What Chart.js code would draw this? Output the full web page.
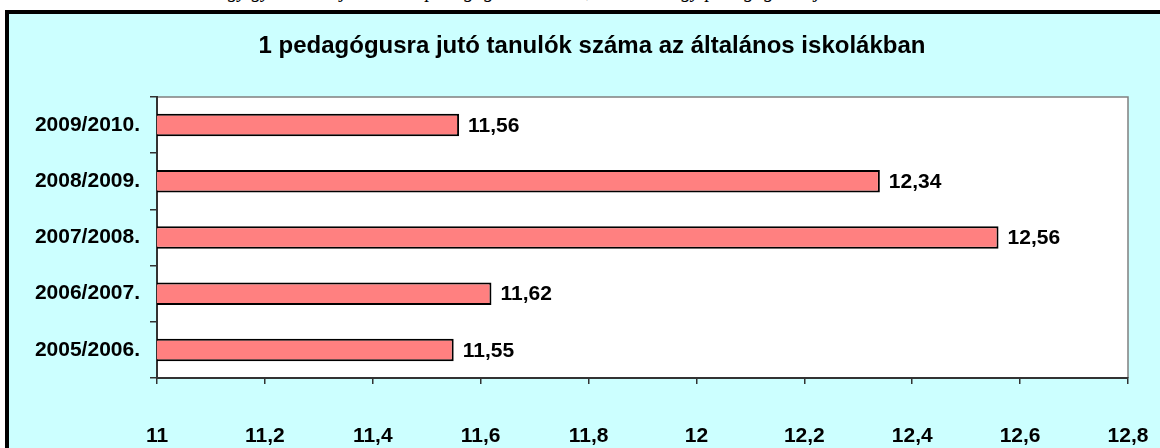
<!DOCTYPE html>
<html>
<head>
<meta charset="utf-8">
<script src="https://cdn.jsdelivr.net/npm/chart.js@4"></script>
<style>
  html, body { margin: 0; padding: 0; background: #fff; overflow: hidden; }
  #wrap { position: relative; width: 1160px; height: 448px; }
  #topline {
    position: absolute; left: 0; top: -21px; width: 1160px;
    font: italic 20px "Liberation Serif", serif; color: #000; white-space: nowrap;
    text-align: center;
  }
  #frame {
    position: absolute; left: 5px; top: 10px; width: 1170px; height: 460px;
    background: #ccffff; border-top: 4px solid #000; border-left: 4px solid #000;
  }
  #Chart { position: absolute; left: 0; top: 0; }
</style>
</head>
<body>
<div id="wrap">
  <div id="topline">Az egy gyermekre jutó óvodapedagógusok száma, illetve az egy pedagógusra jutó tanulók száma</div>
  <div id="frame"></div>
  <canvas id="Chart" width="1160" height="448"></canvas>
</div>
<script>
// School years and students per teacher
const years = ['2005/2006.', '2006/2007.', '2007/2008.', '2008/2009.', '2009/2010.'];
const studentsPerTeacher = [11.55, 11.62, 12.56, 12.34, 11.56];
const xTicks = [11, 11.2, 11.4, 11.6, 11.8, 12, 12.2, 12.4, 12.6, 12.8];

const labelFont = { family: 'Liberation Sans, Arial, sans-serif', size: 21, weight: 'bold' };

function fmt(v) {
  return String(Math.round(v * 100) / 100).replace('.', ',');
}

// white plot area with a thin grey frame on top and right
const plotBox = {
  id: 'plotBox',
  afterLayout(chart) {
    // centre the title a bit right of the canvas middle, like the original
    chart.titleBlock.left = 56;
    chart.titleBlock.right = 1128;
  },
  beforeDraw(chart) {
    const { ctx, chartArea: a } = chart;
    ctx.save();
    ctx.fillStyle = '#ffffff';
    ctx.fillRect(a.left, a.top, a.right - a.left, a.bottom - a.top);
    ctx.strokeStyle = '#808080';
    ctx.lineWidth = 1.5;
    ctx.beginPath();
    ctx.moveTo(a.left, a.top);
    ctx.lineTo(a.right, a.top);
    ctx.lineTo(a.right, a.bottom);
    ctx.stroke();
    ctx.restore();
  }
};

// value labels right of the bars
const valueLabels = {
  id: 'valueLabels',
  afterDatasetsDraw(chart) {
    const { ctx } = chart;
    const meta = chart.getDatasetMeta(0);
    ctx.save();
    ctx.font = 'bold 21px "Liberation Sans", Arial, sans-serif';
    ctx.fillStyle = '#000';
    ctx.textAlign = 'left';
    ctx.textBaseline = 'middle';
    meta.data.forEach((bar, i) => {
      ctx.fillText(fmt(studentsPerTeacher[i]), bar.x + 9, bar.y + 1);
    });
    ctx.restore();
  }
};

const config = {
  type: 'bar',
  data: {
    labels: years,
    datasets: [{
      data: studentsPerTeacher,
      backgroundColor: '#ff8080',
      borderColor: '#000000',
      borderWidth: 2,
      borderSkipped: false,
      categoryPercentage: 0.4,
      barPercentage: 1.0
    }]
  },
  options: {
    indexAxis: 'y',
    responsive: false,
    animation: false,
    layout: { padding: { left: 24, right: 32, top: 0, bottom: 0 } },
    plugins: {
      legend: { display: false },
      tooltip: { enabled: false },
      title: {
        display: true,
        text: '1 pedagógusra jutó tanulók száma az általános iskolákban',
        color: '#000',
        font: { family: 'Liberation Sans, Arial, sans-serif', size: 24, weight: 'bold', lineHeight: 1.2 },
        padding: { top: 31.6, bottom: 36.6 }
      }
    },
    scales: {
      x: {
        min: 11,
        max: 12.8,
        afterBuildTicks(scale) {
          scale.ticks = xTicks.map(v => ({ value: v }));
        },
        afterFit(scale) {
          scale.height = 70;
          scale.paddingLeft = 0;
          scale.paddingRight = 0;
        },
        grid: { drawOnChartArea: false, drawTicks: true, tickLength: 6, color: '#333', lineWidth: 1.5 },
        border: { display: true, color: '#333', width: 2 },
        ticks: {
          color: '#000',
          font: labelFont,
          padding: 40,
          maxRotation: 0,
          autoSkip: false,
          callback: v => fmt(v)
        }
      },
      y: {
        reverse: true,
        afterFit(scale) { scale.width = 133; },
        grid: { drawOnChartArea: false, drawTicks: true, tickLength: 7, color: '#333', lineWidth: 1.5, offset: true },
        border: { display: true, color: '#333', width: 2 },
        ticks: { color: '#000', font: labelFont, padding: 10 }
      }
    }
  },
  plugins: [plotBox, valueLabels]
};

const spChart = new Chart(document.getElementById('Chart'), config);
</script>
</body>
</html>
